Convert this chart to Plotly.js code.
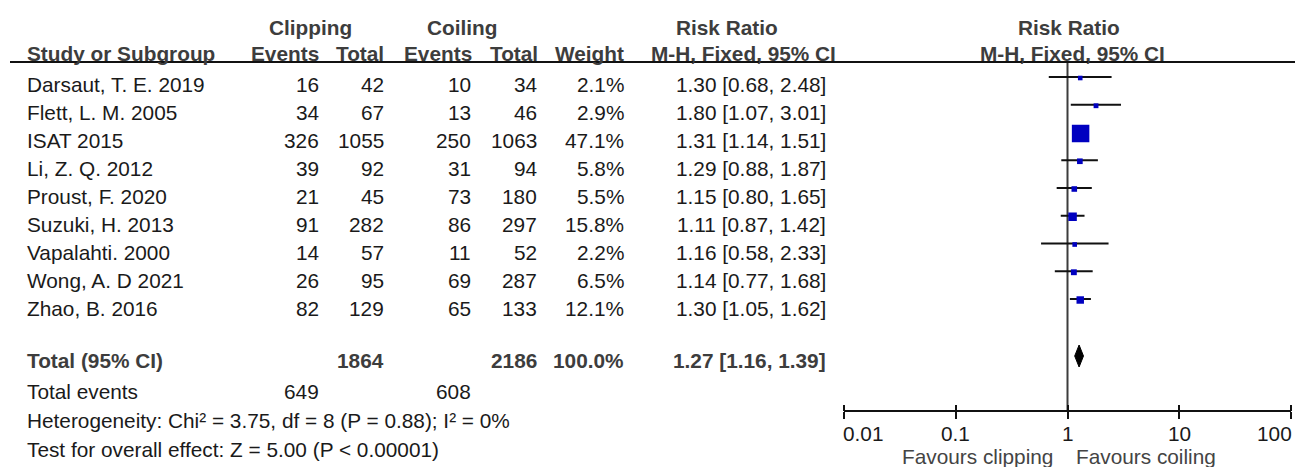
<!DOCTYPE html>
<html>
<head>
<meta charset="utf-8">
<script src="https://cdn.plot.ly/plotly-3.0.1.min.js"></script>
<style>html,body{margin:0;padding:0;background:#fff}#chart{width:1295px;height:467px}</style>
</head>
<body>
<div id="chart"></div>
<script>
// ---------- data ----------
const studies = ["Darsaut, T. E. 2019","Flett, L. M. 2005","ISAT 2015","Li, Z. Q. 2012","Proust, F. 2020","Suzuki, H. 2013","Vapalahti. 2000","Wong, A. D 2021","Zhao, B. 2016"];
const clipEvents = [16, 34, 326, 39, 21, 91, 14, 26, 82];
const clipTotal  = [42, 67, 1055, 92, 45, 282, 57, 95, 129];
const coilEvents = [10, 13, 250, 31, 73, 86, 11, 69, 65];
const coilTotal  = [34, 46, 1063, 94, 180, 297, 52, 287, 133];
const weights    = [2.1, 2.9, 47.1, 5.8, 5.5, 15.8, 2.2, 6.5, 12.1];
const riskRatio  = [1.30, 1.80, 1.31, 1.29, 1.15, 1.11, 1.16, 1.14, 1.30];
const ciLow      = [0.68, 1.07, 1.14, 0.88, 0.80, 0.87, 0.58, 0.77, 1.05];
const ciHigh     = [2.48, 3.01, 1.51, 1.87, 1.65, 1.42, 2.33, 1.68, 1.62];
const totalClip = 1864, totalCoil = 2186, totalWeight = 100.0;
const totalRR = 1.27, totalLow = 1.16, totalHigh = 1.39;
const totalEventsClip = 649, totalEventsCoil = 608;
const heterogeneityText = "Heterogeneity: Chi² = 3.75, df = 8 (P = 0.88); I² = 0%";
const overallText = "Test for overall effect: Z = 5.00 (P < 0.00001)";
const tickVals = [0.01, 0.1, 1, 10, 100];
const tickLabels = ["0.01", "0.1", "1", "10", "100"];

// ---------- layout helpers ----------
const W = 1295, H = 467;
const FONT = "Liberation Sans, Arial, Helvetica, sans-serif";
const FS = 20.8;
const BODY = "#1a1a1a", HEAD = "#3d3d3d";
const px = v => v / W;
const rowText = i => 84.5 + i * 28;
const rowMark = i => 77 + i * 27.75;
const axisY = 411;
const tickLabelY = 433.5;
const PAD = 3;

const ann = [];
function txt(text, x, y, anchor, bold, color) {
  const xx = anchor === "left" ? x - PAD : (anchor === "right" ? x + PAD : x);
  ann.push({text: bold ? "<b>" + text + "</b>" : text, xref: "paper", yref: "y", x: px(xx), y: y,
    xanchor: anchor, yanchor: "middle", showarrow: false,
    font: {family: FONT, size: FS, color: color || (bold ? HEAD : BODY)}});
}

// headers
txt("Clipping", 310, 27, "center", true);
txt("Coiling", 462, 27, "center", true);
txt("Risk Ratio", 727, 27, "center", true);
txt("Risk Ratio", 1069, 27, "center", true);
txt("Study or Subgroup", 28, 53.5, "left", true);
txt("Events", 318, 53.5, "right", true);
txt("Total", 383, 53.5, "right", true);
txt("Events", 471, 53.5, "right", true);
txt("Total", 537, 53.5, "right", true);
txt("Weight", 623, 53.5, "right", true);
txt("M-H, Fixed, 95% CI", 743, 53.5, "center", true);
txt("M-H, Fixed, 95% CI", 1072, 53.5, "center", true);

// study rows
studies.forEach((s, i) => {
  const y = rowText(i);
  txt(s, 28, y, "left");
  txt(String(clipEvents[i]), 318, y, "right");
  txt(String(clipTotal[i]), 383, y, "right");
  txt(String(coilEvents[i]), 470, y, "right");
  txt(String(coilTotal[i]), 536, y, "right");
  txt(weights[i].toFixed(1) + "%", 623, y, "right");
  txt(riskRatio[i].toFixed(2) + " [" + ciLow[i].toFixed(2) + ", " + ciHigh[i].toFixed(2) + "]", 825, y, "right");
});

// totals
const yTot = 360;
txt("Total (95% CI)", 28, yTot, "left", true);
txt(String(totalClip), 383, yTot, "right", true);
txt(String(totalCoil), 536, yTot, "right", true);
txt(totalWeight.toFixed(1) + "%", 623, yTot, "right", true);
txt(totalRR.toFixed(2) + " [" + totalLow.toFixed(2) + ", " + totalHigh.toFixed(2) + "]", 825, yTot, "right", true);
txt("Total events", 28, 391, "left");
txt(String(totalEventsClip), 318, 391, "right");
txt(String(totalEventsCoil), 470, 391, "right");
txt(heterogeneityText, 28, 420, "left");
txt(overallText, 28, 449, "left");

// favours labels
txt("Favours clipping", 1052, 456, "right", false, "#444");
txt("Favours coiling", 1077, 456, "left", false, "#444");

// axis tick labels (end labels are pulled inward like the original)
tickVals.forEach((v, i) => {
  const anchor = i === 0 ? "left" : (i === tickVals.length - 1 ? "right" : "center");
  const shift = anchor === "left" ? -PAD : (anchor === "right" ? PAD : 0);
  ann.push({text: tickLabels[i], xref: "x", yref: "y", x: Math.log10(v), y: tickLabelY,
    xanchor: anchor, xshift: shift, yanchor: "middle", showarrow: false,
    font: {family: FONT, size: FS, color: BODY}});
});

// ---------- traces ----------
const ciX = [], ciY = [];
studies.forEach((s, i) => {
  ciX.push(ciLow[i], ciHigh[i], null);
  ciY.push(rowMark(i), rowMark(i), null);
});
const ciTrace = {x: ciX, y: ciY, mode: "lines", type: "scatter",
  line: {color: "#111", width: 2}, hoverinfo: "skip", showlegend: false, cliponaxis: false};

const sqTrace = {x: riskRatio, y: studies.map((s, i) => rowMark(i) + 1), mode: "markers", type: "scatter",
  marker: {symbol: "square", color: "#0000c0", opacity: 1, size: weights.map(w => 4 + 13.5 * w / 47.1), line: {width: 0}},
  showlegend: false, cliponaxis: false};

const yDia = 356;
const diaTrace = {x: [totalLow, totalRR, totalHigh, totalRR, totalLow],
  y: [yDia, yDia - 11, yDia, yDia + 11, yDia], mode: "lines", type: "scatter",
  fill: "toself", fillcolor: "#000", line: {color: "#000", width: 1}, showlegend: false};

// log-axis range padded very slightly so the end ticks are kept
const EPS = 0.01, decadePx = (1291 - 844) / 4;
const dom = [px(844 - EPS * decadePx), px(1291 + EPS * decadePx)];
const rng = [-2 - EPS, 2 + EPS];
const layout = {
  width: W, height: H,
  margin: {l: 0, r: 0, t: 0, b: 0, pad: 0},
  paper_bgcolor: "#fff", plot_bgcolor: "rgba(0,0,0,0)",
  showlegend: false,
  xaxis: {type: "log", domain: dom, range: rng, anchor: "free", position: 1 - axisY / H,
    showline: false, ticks: "outside", ticklen: 7, tickwidth: 2, tickcolor: "#111",
    tickvals: tickVals, showticklabels: false,
    showgrid: false, zeroline: false, fixedrange: true},
  xaxis2: {type: "log", domain: dom, range: rng, anchor: "free", position: 1 - axisY / H, overlaying: "x",
    showline: false, ticks: "inside", ticklen: 6, tickwidth: 2, tickcolor: "#111",
    tickvals: tickVals, showticklabels: false, showgrid: false, zeroline: false},
  yaxis: {range: [H, 0], domain: [0, 1], visible: false, showgrid: false, zeroline: false, fixedrange: true},
  shapes: [
    {type: "line", xref: "paper", yref: "y", x0: px(10), x1: 1, y0: 62, y1: 62, line: {color: "#111", width: 2}},
    {type: "line", xref: "x", yref: "y", x0: tickVals[0], x1: tickVals[tickVals.length - 1], y0: axisY, y1: axisY, line: {color: "#111", width: 2}},
    {type: "line", xref: "x", yref: "y", x0: 1, x1: 1, y0: 62, y1: axisY, line: {color: "#3c3c3c", width: 2}, layer: "below"}
  ],
  annotations: ann
};

const dummy2 = {x: [1], y: [0], xaxis: "x2", mode: "markers", marker: {opacity: 0}, hoverinfo: "skip", showlegend: false};

Plotly.newPlot("chart", [ciTrace, sqTrace, diaTrace, dummy2], layout, {staticPlot: true, displayModeBar: false});
</script>
</body>
</html>
